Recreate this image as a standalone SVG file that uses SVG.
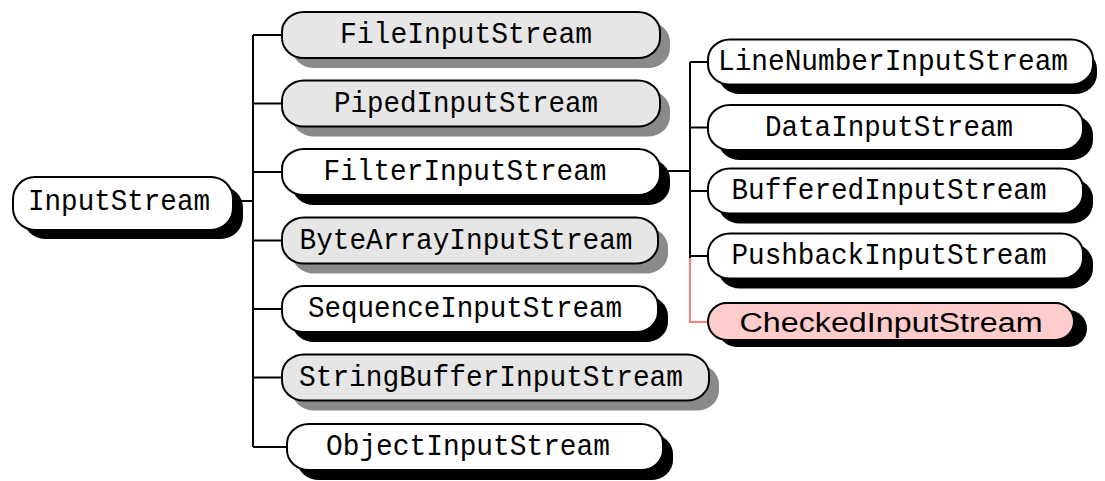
<svg xmlns="http://www.w3.org/2000/svg" width="1105" height="481" viewBox="0 0 1105 481">
<style>
.box{stroke:#000;stroke-width:2}
.w{fill:#fff}
.g{fill:#e6e6e6}
.sb{fill:#000}
.sg{fill:#8a8a8a}
.pk{fill:#ffcccc}
.t{font-family:"Liberation Mono","DejaVu Sans Mono",monospace;font-size:29px;fill:#000;text-anchor:middle}
.ts{font-family:"Liberation Sans",Arial,sans-serif;font-size:27px;fill:#000;text-anchor:middle}
.c{fill:none;stroke:#000;stroke-width:2}
.cr{fill:none;stroke:#ff7f7f;stroke-width:2}
</style>
<rect width="1105" height="481" fill="#fff"/>
<g id="connectors">
<path class="c" d="M233 201H253M253 35V447M253 35H282M253 103.5H282M253 172H282M253 240.5H282M253 309H282M253 377.5H282M253 447H287"/>
<path class="c" d="M660 171H690M690 62V258M690 62H708M690 127.5H708M690 191H708M690 256H708"/>
<path class="cr" d="M690 258V322H708"/>
</g>
<g id="InputStream">
<rect class="sb" x="23" y="186" width="220" height="53" rx="22" ry="22"/>
<rect class="box w" x="13" y="177" width="220" height="53" rx="22" ry="22"/>
<text class="t" x="119" y="210" textLength="182" lengthAdjust="spacingAndGlyphs">InputStream</text>
</g>
<g id="FileInputStream">
<rect class="sg" x="292" y="22" width="378" height="46" rx="22" ry="20"/>
<rect class="box g" x="282" y="12" width="378" height="46" rx="22" ry="20"/>
<text class="t" x="466" y="43" textLength="252" lengthAdjust="spacingAndGlyphs">FileInputStream</text>
</g>
<g id="PipedInputStream">
<rect class="sg" x="292" y="90.5" width="378" height="46" rx="22" ry="20"/>
<rect class="box g" x="282" y="80.5" width="378" height="46" rx="22" ry="20"/>
<text class="t" x="466" y="111.5" textLength="264" lengthAdjust="spacingAndGlyphs">PipedInputStream</text>
</g>
<g id="FilterInputStream">
<rect class="sb" x="292" y="159" width="378" height="46" rx="22" ry="20"/>
<rect class="box w" x="282" y="149" width="378" height="46" rx="22" ry="20"/>
<text class="t" x="465" y="180" textLength="283" lengthAdjust="spacingAndGlyphs">FilterInputStream</text>
</g>
<g id="ByteArrayInputStream">
<rect class="sg" x="292" y="227.5" width="376" height="46" rx="22" ry="20"/>
<rect class="box g" x="282" y="217.5" width="376" height="46" rx="22" ry="20"/>
<text class="t" x="466" y="248.5" textLength="333" lengthAdjust="spacingAndGlyphs">ByteArrayInputStream</text>
</g>
<g id="SequenceInputStream">
<rect class="sb" x="292" y="296" width="376" height="46" rx="22" ry="20"/>
<rect class="box w" x="282" y="286" width="376" height="46" rx="22" ry="20"/>
<text class="t" x="465" y="317" textLength="314" lengthAdjust="spacingAndGlyphs">SequenceInputStream</text>
</g>
<g id="StringBufferInputStream">
<rect class="sg" x="292" y="364.5" width="427" height="46" rx="22" ry="20"/>
<rect class="box g" x="282" y="354.5" width="427" height="46" rx="22" ry="20"/>
<text class="t" x="491" y="385.5" textLength="384" lengthAdjust="spacingAndGlyphs">StringBufferInputStream</text>
</g>
<g id="ObjectInputStream">
<rect class="sb" x="297" y="434" width="376" height="46" rx="22" ry="20"/>
<rect class="box w" x="287" y="424" width="376" height="46" rx="22" ry="20"/>
<text class="t" x="468" y="455" textLength="284" lengthAdjust="spacingAndGlyphs">ObjectInputStream</text>
</g>
<g id="LineNumberInputStream">
<rect class="sb" x="718" y="49" width="379" height="45" rx="22" ry="20"/>
<rect class="box w" x="708" y="39.5" width="385" height="45" rx="22" ry="20"/>
<text class="t" x="893" y="70" textLength="350" lengthAdjust="spacingAndGlyphs">LineNumberInputStream</text>
</g>
<g id="DataInputStream">
<rect class="sb" x="718" y="115" width="375" height="45" rx="22" ry="20"/>
<rect class="box w" x="708" y="105" width="375" height="45" rx="22" ry="20"/>
<text class="t" x="889" y="135.5" textLength="248" lengthAdjust="spacingAndGlyphs">DataInputStream</text>
</g>
<g id="BufferedInputStream">
<rect class="sb" x="718" y="178.5" width="375" height="45" rx="22" ry="20"/>
<rect class="box w" x="708" y="168.5" width="375" height="45" rx="22" ry="20"/>
<text class="t" x="889" y="199" textLength="315" lengthAdjust="spacingAndGlyphs">BufferedInputStream</text>
</g>
<g id="PushbackInputStream">
<rect class="sb" x="718" y="243.5" width="375" height="45" rx="22" ry="20"/>
<rect class="box w" x="708" y="233.5" width="375" height="45" rx="22" ry="20"/>
<text class="t" x="889" y="264" textLength="315" lengthAdjust="spacingAndGlyphs">PushbackInputStream</text>
</g>
<g id="CheckedInputStream">
<rect class="sb" x="718" y="310" width="369" height="37" rx="18.5" ry="18.5"/>
<rect class="box pk" x="708" y="303" width="366" height="37" rx="18.5" ry="18.5"/>
<text class="ts" x="891" y="332" textLength="303" lengthAdjust="spacingAndGlyphs">CheckedInputStream</text>
</g>
</svg>
